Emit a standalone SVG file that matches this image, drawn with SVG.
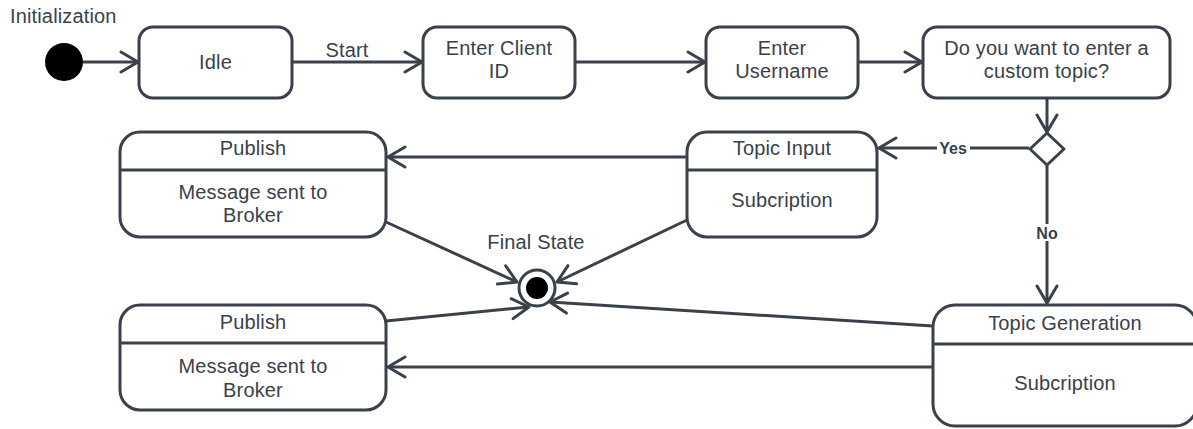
<svg xmlns="http://www.w3.org/2000/svg" width="1193" height="429" viewBox="0 0 1193 429">
  <style>
    .box { fill: #ffffff; stroke: #3a414a; stroke-width: 3; }
    .div { stroke: #3a414a; stroke-width: 3; }
    .edge { fill: none; stroke: #3a414a; stroke-width: 3; marker-end: url(#arr); }
    text { font-family: "Liberation Sans", Arial, sans-serif; font-size: 20px; letter-spacing: 0.15px; fill: #3a414a; text-anchor: middle; }
    .guard { font-size: 16px; font-weight: bold; letter-spacing: 0; }
    .lbl { fill: #ffffff; }
  </style>
  <defs>
    <marker id="arr" markerUnits="userSpaceOnUse" viewBox="0 0 24 24" markerWidth="24" markerHeight="24" refX="20" refY="12" orient="auto">
      <path d="M3,2 L20,12 L3,22" fill="none" stroke="#3a414a" stroke-width="3" stroke-linejoin="round" stroke-linecap="round"/>
    </marker>
  </defs>

  <!-- transitions -->
  <g id="connectors">
    <path class="edge" d="M83,62 L138,62"/>
    <path class="edge" d="M292,62 L422,62"/>
    <text x="347" y="57">Start</text>
    <path class="edge" d="M575,62 L705,62"/>
    <path class="edge" d="M858,62 L922,62"/>
    <path class="edge" d="M1047,98 L1047,132"/>
    <path class="edge" d="M1029,148 L879,148"/>
    <rect class="lbl" x="937" y="139" width="33" height="17"/>
    <text class="guard" x="953" y="154">Yes</text>
    <path class="edge" d="M1047,165 L1047,303"/>
    <rect class="lbl" x="1035" y="224" width="24" height="17"/>
    <text class="guard" x="1047" y="239">No</text>
    <path class="edge" d="M687,157 L388,157"/>
    <path class="edge" d="M933,367 L388,367"/>
    <path class="edge" d="M386,222 L517,282"/>
    <path class="edge" d="M687,220 L557,282"/>
    <path class="edge" d="M386,321 L529,307"/>
    <path class="edge" d="M933,326 L550,302"/>
  </g>

  <!-- initial pseudostate -->
  <g id="initial">
    <circle cx="64" cy="62" r="19" fill="#000000"/>
    <text x="10" y="23" style="text-anchor:start">Initialization</text>
  </g>

  <g id="idle">
    <rect class="box" x="139" y="27" width="153" height="71" rx="14"/>
    <text x="215.5" y="69">Idle</text>
  </g>

  <g id="enter-client-id">
    <rect class="box" x="423" y="27" width="152" height="71" rx="14"/>
    <text x="499" y="55">Enter Client</text>
    <text x="499" y="78">ID</text>
  </g>

  <g id="enter-username">
    <rect class="box" x="706" y="27" width="152" height="71" rx="14"/>
    <text x="782" y="55">Enter</text>
    <text x="782" y="78">Username</text>
  </g>

  <g id="custom-topic-question">
    <rect class="box" x="923" y="27" width="247" height="71" rx="14"/>
    <text x="1046.5" y="55">Do you want to enter a</text>
    <text x="1046.5" y="78">custom topic?</text>
  </g>

  <g id="decision">
    <path class="box" d="M1047,133 L1064,149 L1047,165 L1030,149 Z" stroke-linejoin="round"/>
  </g>

  <g id="publish-top">
    <rect class="box" x="120" y="132" width="266" height="105" rx="20"/>
    <line class="div" x1="120" y1="170" x2="386" y2="170"/>
    <text x="253" y="155">Publish</text>
    <text x="253" y="199">Message sent to</text>
    <text x="253" y="222">Broker</text>
  </g>

  <g id="topic-input">
    <rect class="box" x="687" y="132" width="190" height="105" rx="20"/>
    <line class="div" x1="687" y1="170" x2="877" y2="170"/>
    <text x="782" y="155">Topic Input</text>
    <text x="782" y="207">Subcription</text>
  </g>

  <g id="final-state">
    <circle cx="537" cy="288" r="18" fill="#ffffff" stroke="#3a414a" stroke-width="3"/>
    <circle cx="537" cy="288" r="11" fill="#000000"/>
    <text x="536" y="249">Final State</text>
  </g>

  <g id="publish-bottom">
    <rect class="box" x="120" y="305" width="266" height="105" rx="20"/>
    <line class="div" x1="120" y1="343" x2="386" y2="343"/>
    <text x="253" y="329">Publish</text>
    <text x="253" y="373">Message sent to</text>
    <text x="253" y="397">Broker</text>
  </g>

  <g id="topic-generation">
    <rect class="box" x="933" y="305" width="264" height="121" rx="22"/>
    <line class="div" x1="933" y1="344" x2="1197" y2="344"/>
    <text x="1065" y="330">Topic Generation</text>
    <text x="1065" y="390">Subcription</text>
  </g>
</svg>
